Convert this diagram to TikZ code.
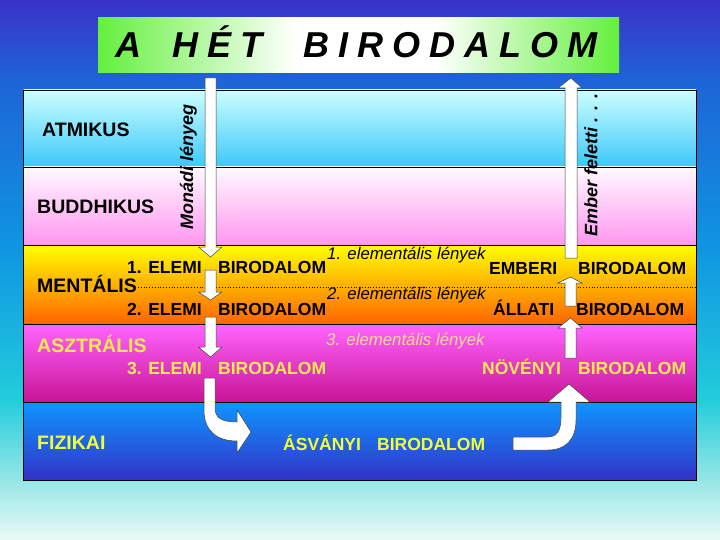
\documentclass[tikz,border=0pt]{standalone}
\usepackage{fontspec}
\setmainfont{Liberation Sans}
\definecolor{bgA}{RGB}{58,50,200}
\definecolor{bgB}{RGB}{30,100,215}
\definecolor{bgC}{RGB}{15,150,225}
\definecolor{bgD}{RGB}{35,205,220}
\definecolor{bgE}{RGB}{150,230,230}
\definecolor{bgF}{RGB}{235,250,245}
\definecolor{grn}{RGB}{100,240,60}
\definecolor{atA}{RGB}{204,255,255}
\definecolor{atB}{RGB}{60,200,250}
\definecolor{buA}{RGB}{255,250,255}
\definecolor{buB}{RGB}{255,150,240}
\definecolor{meA}{RGB}{255,255,0}
\definecolor{meB}{RGB}{255,100,0}
\definecolor{asA}{RGB}{255,100,255}
\definecolor{asB}{RGB}{200,20,150}
\definecolor{fiA}{RGB}{15,150,255}
\definecolor{fiB}{RGB}{50,50,200}
\definecolor{ylw}{RGB}{255,235,80}
\definecolor{fyl}{RGB}{240,255,60}
\definecolor{lyl}{RGB}{255,220,140}
\pgfdeclarehorizontalshading{ttlsh}{100bp}{rgb(0bp)=(0.39,0.94,0.24); rgb(25bp)=(0.39,0.94,0.24); rgb(44bp)=(1,1,1); rgb(57.5bp)=(1,1,1); rgb(75bp)=(0.39,0.94,0.24); rgb(100bp)=(0.39,0.94,0.24)}
\begin{document}
\begin{tikzpicture}[x=1pt,y=-1pt,
 lbl/.style={inner sep=0pt, anchor=base west, font=\fontsize{19.5}{20}\selectfont\bfseries},
 mid/.style={inner sep=0pt, anchor=base west, font=\fontsize{17.5}{18}\selectfont\bfseries},
 elem/.style={inner sep=0pt, anchor=base west, font=\fontsize{16.8}{17}\selectfont\itshape},
 rot/.style={inner sep=0pt, rotate=90, font=\fontsize{18}{18}\selectfont\bfseries\itshape},
 ttl/.style={inner sep=0pt, anchor=base west, font=\fontsize{36}{36}\selectfont\bfseries\itshape\addfontfeatures{LetterSpace=25}},
 rowbox/.style={draw=black, line width=0.7pt},
 arr/.style={fill=white, draw=black!75, line width=0.5pt, line join=miter}
]
\useasboundingbox (0,0) rectangle (720,540);
% background
\shade[top color=bgA, bottom color=bgB] (0,0) rectangle (720,80.5);
\shade[top color=bgB, bottom color=bgC] (0,80) rectangle (720,250.5);
\shade[top color=bgC, bottom color=bgD] (0,250) rectangle (720,400.5);
\shade[top color=bgD, bottom color=bgE] (0,400) rectangle (720,480.5);
\shade[top color=bgE, bottom color=bgF] (0,480) rectangle (720,540);
% title box
\shade[shading=ttlsh] (98,18) rectangle (619,73);
\node[ttl] (tA) at (115,58) {A};
\node[ttl] (tH) at (172,58) {HÉT};
\node[ttl] (tB) at (303,58) {BIRODALOM};
% rows
\shadedraw[rowbox, top color=atA, bottom color=atB] (23.5,90) rectangle (696,167);
\shadedraw[rowbox, top color=buA, bottom color=buB] (23.5,167) rectangle (696,245);
\shadedraw[rowbox, top color=meA, bottom color=meB] (23.5,245) rectangle (696,324);
\shadedraw[rowbox, top color=asA, bottom color=asB] (23.5,324) rectangle (696,402);
\shadedraw[rowbox, top color=fiA, bottom color=fiB] (23.5,402) rectangle (696,480);
\draw[dotted, line width=0.8pt] (138,287) -- (696,287);
% row labels
\node[lbl] (atm) at (42,136.7) {ATMIKUS};
\node[lbl] (bud) at (37,214) {BUDDHIKUS};
\node[lbl] (men) at (37,292) {MENTÁLIS};
\node[lbl, text=ylw] (asz) at (37,352.5) {ASZTRÁLIS};
\node[lbl, text=fyl] (fiz) at (37,449) {FIZIKAI};
% left arrows
\path[arr] (205,78) -- (216,78) -- (216,247) -- (222,247) -- (210.5,257) -- (198.5,247) -- (205,247) -- cycle;
\path[arr] (205,270) -- (216,270) -- (216,292) -- (222,292) -- (210.5,300) -- (198.5,292) -- (205,292) -- cycle;
\path[arr] (205,317) -- (216,317) -- (216,347) -- (222,347) -- (210.5,357) -- (198.5,347) -- (205,347) -- cycle;
\path[arr] (204,378) -- (215,378) -- (215,408) .. controls (215,418) and (222,422) .. (237,422) -- (237,410) -- (251,432) -- (237,453) -- (237,441) .. controls (216,441) and (204,430) .. (204,410) -- cycle;
% right arrows
\path[arr] (565,258) -- (565,88) -- (558,88) -- (571,78) -- (582,88) -- (577,88) -- (577,258) -- cycle;
\path[arr] (565,306) -- (565,283) -- (558,283) -- (570.5,277) -- (582,283) -- (576,283) -- (576,306) -- cycle;
\path[arr] (565,358) -- (565,328) -- (558,328) -- (570.5,318) -- (582,328) -- (576,328) -- (576,358) -- cycle;
\path[arr] (513,437) -- (548,437) .. controls (557,437) and (561,430) .. (561,418) -- (561,402) -- (548,402) -- (569,384) -- (590,402) -- (576,402) -- (576,420) .. controls (576,440) and (565,450) .. (548,450) -- (513,450) -- cycle;
% rotated texts
\node[rot] (mon) at (188.5,167) {Monádi lényeg};
\node[rot] (emb) at (591,165) {Ember feletti . . .};
% middle labels
\node[mid] (e1) at (127,273) {1. ELEMI};
\node[mid] (b1) at (218,273) {BIRODALOM};
\node[mid] (e2) at (127,315) {2. ELEMI};
\node[mid] (b2) at (218,315) {BIRODALOM};
\node[mid, text=ylw] (e3) at (127,374) {3. ELEMI};
\node[mid, text=ylw] (b3) at (218,374) {BIRODALOM};
\node[mid] (emberi) at (489,274) {EMBERI};
\node[mid] (b4) at (578,274) {BIRODALOM};
\node[mid] (allati) at (493,315) {ÁLLATI};
\node[mid] (b5) at (576,315) {BIRODALOM};
\node[mid, text=ylw] (noveny) at (482,374) {NÖVÉNYI};
\node[mid, text=ylw] (b6) at (578,374) {BIRODALOM};
\node[mid, text=fyl] (asvany) at (283,450) {ÁSVÁNYI};
\node[mid, text=fyl] (b7) at (377,450) {BIRODALOM};
% elemental beings
\node[elem] (l1) at (327,259) {1. elementális lények};
\node[elem] (l2) at (327,299) {2. elementális lények};
\node[elem, text=lyl] (l3) at (326,345) {3. elementális lények};
\end{tikzpicture}
\end{document}
